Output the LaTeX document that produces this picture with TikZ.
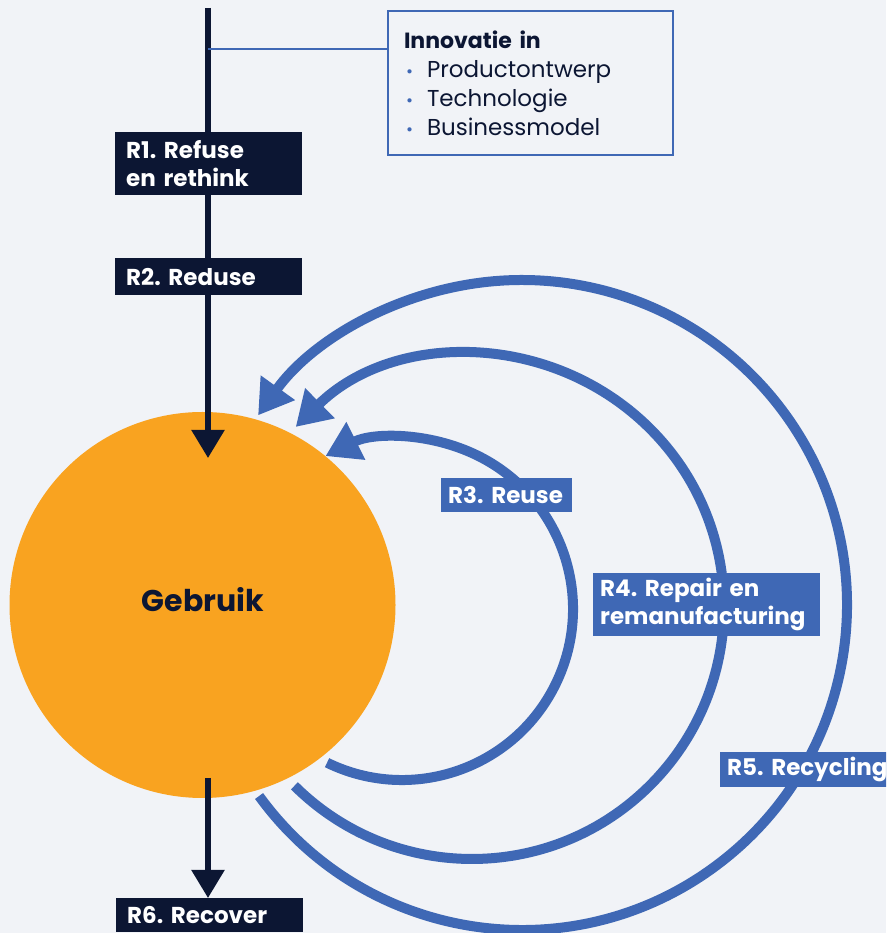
\documentclass[tikz,border=0pt]{standalone}
\usepackage{fontspec}
\setmainfont{Poppins}
\usetikzlibrary{arrows.meta,calc}
\definecolor{bgc}{HTML}{F1F3F7}
\definecolor{navy}{HTML}{0C1633}
\definecolor{rblue}{HTML}{3F68B5}
\definecolor{orng}{HTML}{F9A320}
\frenchspacing
\begin{document}
\begin{tikzpicture}[x=1pt,y=1pt,
  lbl/.style={font=\bfseries\fontsize{23}{28}\selectfont,text=white,align=left,anchor=north west,inner ysep=0pt},
  darkbox/.style={lbl,fill=navy,inner xsep=11pt,text width=165pt},
  bluebox/.style={lbl,fill=rblue,inner xsep=7pt},
  loop/.style={draw=rblue,line width=10pt,-{Triangle[length=34pt,width=40pt]}},
  flow/.style={draw=navy,line width=5.5pt,-{Triangle[length=28pt,width=32pt]}}
]
\useasboundingbox (0,0) rectangle (886,933);
\clip (0,0) rectangle (886,933);
\fill[bgc] (0,0) rectangle (886,933);

% arcs (loops back to use)
\coordinate (c3) at (402,324);
\coordinate (c4) at (472,326);
\coordinate (c5) at (522,328);
\draw[loop] ($(c5)+(216:325)$) arc[start angle=216, end angle=504.3, radius=325];
\draw[loop] ($(c4)+(225.2:252)$) arc[start angle=225.2, end angle=494.4, radius=252];
\draw[loop] ($(c3)+(244:171)$) arc[start angle=244, end angle=476.6, radius=171];

% central circle
\node[circle,fill=orng,minimum size=386pt,inner sep=0pt] (use) at (202.5,328) {};
\node[font=\bfseries\fontsize{30}{32}\selectfont,text=navy] (usetxt) at (203,333) {Gebruik};

% main flow
\coordinate (top) at (208,925);
\coordinate (tipA) at (208,475);
\coordinate (join) at (208,884);
\coordinate (bstart) at (208,155);
\draw[flow] (top) -- (tipA);

% innovation box
\newcommand{\bulletdot}{\makebox[23pt][l]{\hspace*{2pt}\textcolor{rblue}{\fontsize{17}{29}\selectfont•}}}
\node[draw=rblue,line width=2pt,fill=bgc,anchor=north west,minimum width=285pt,minimum height=144pt,
      text width=253pt,inner xsep=16pt,align=left,font=\fontsize{23}{29}\selectfont,text=navy] (innov) at (387,923)
  {{\bfseries\fontsize{22}{29}\selectfont Innovatie in}\\
   \bulletdot Productontwerp\\
   \bulletdot Technologie\\
   \bulletdot Businessmodel};
\draw[rblue,line width=2pt] (join) -- (join -| innov.west);

% R labels
\node[darkbox,minimum height=63pt] (r1) at (115,801) {R1. Refuse\\en rethink};
\node[darkbox,minimum height=37pt] (r2) at (115,675) {R2. Reduse};
\node[darkbox,minimum height=34pt] (r6) at (116,35) {R6. Recover};
\node[bluebox,text width=117pt,minimum height=34pt] (r3) at (441,455) {R3. Reuse};
\node[bluebox,text width=213pt,minimum height=63pt] (r4) at (593,360) {R4. Repair en\\remanufacturing};
\node[bluebox,text width=175pt,minimum height=35pt] (r5) at (720,181) {R5. Recycling};

\draw[flow] (bstart) -- (bstart |- r6.north);
\end{tikzpicture}
\end{document}
